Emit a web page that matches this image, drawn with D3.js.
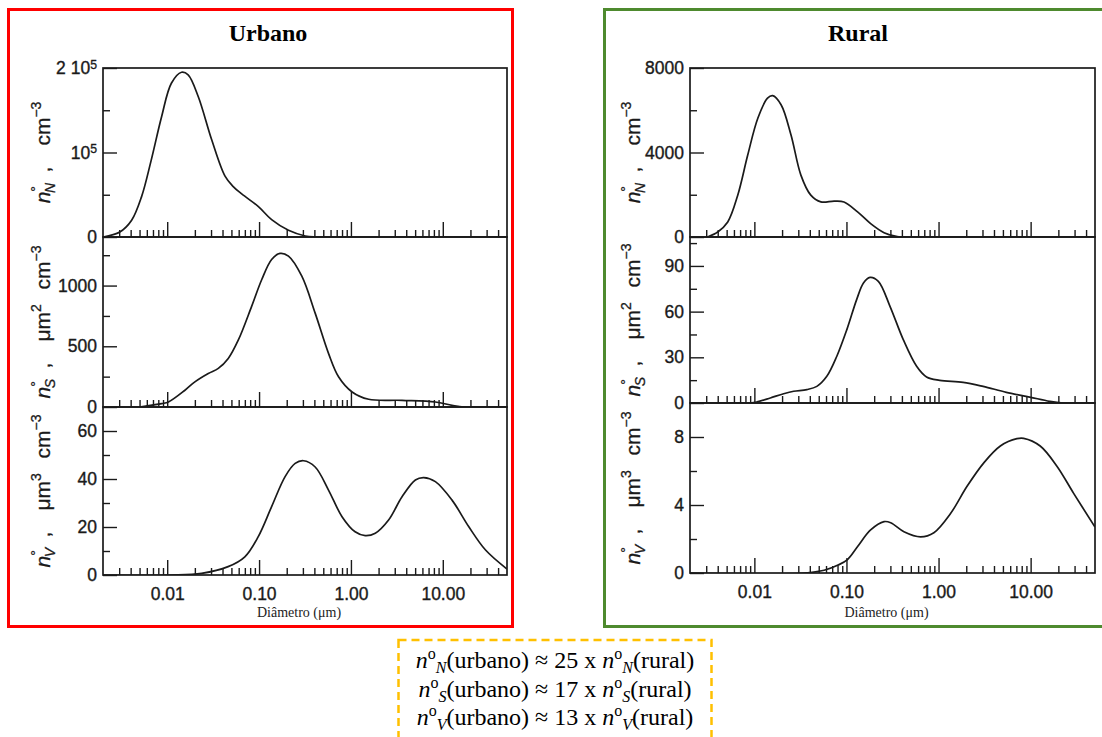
<!DOCTYPE html>
<html>
<head>
<meta charset="utf-8">
<script src="https://cdn.jsdelivr.net/npm/d3@7"></script>
<style>
  body { margin: 0; background: #fff; }
  svg { display: block; }
</style>
</head>
<body>
<script>
// size distributions, diameter in um
var urbanNumber = [[0.002,0],[0.00305,5900],[0.0041,19800],[0.00525,47500],[0.0067,91000],[0.0087,142600],
    [0.0111,182000],[0.0143,195000],[0.0169,192000],[0.0218,166000],[0.0305,115000],[0.0426,72000],
    [0.052,60000],[0.0647,51000],[0.0984,36000],[0.137,20500],[0.209,7900],[0.318,1200],[0.42,0],[50,0]];
var urbanSurface = [[0.005,0],[0.0087,28],[0.0103,41],[0.0156,138],[0.02,207],[0.028,276],[0.036,318],
    [0.0462,400],[0.0595,552],[0.083,829],[0.107,1050],[0.137,1215],[0.169,1265],[0.209,1243],[0.292,1077],
    [0.408,773],[0.57,442],[0.733,249],[1.03,124],[1.56,64],[3.6,55],[8.3,41],[12.6,14],[17,0],[50,0]];
var urbanVolume = [[0.002,0],[0.011,0],[0.0237,0.7],[0.046,3.5],[0.07,7.6],[0.098,16],[0.137,28.5],
    [0.192,41],[0.247,46.5],[0.305,47.6],[0.408,45],[0.57,35.4],[0.8,24.3],[1.11,18],[1.43,16.4],
    [1.84,17.4],[2.57,22.9],[3.6,32.6],[5.03,39.6],[6.2,40.6],[8.3,38.9],[12.6,31.2],[19.2,20.1],
    [29.2,10.4],[50,2.5]];

var ruralNumber = [[0.0031,0],[0.004,238],[0.00514,713],[0.0066,1980],[0.00847,3880],[0.0109,5620],
    [0.0139,6570],[0.0158,6690],[0.0195,6260],[0.025,4830],[0.032,2930],[0.041,1980],[0.0527,1660],
    [0.0735,1700],[0.094,1660],[0.132,1190],[0.183,634],[0.256,206],[0.356,20],[0.4,0],[50,0]];
var ruralSurface = [[0.002,0],[0.009,0],[0.0107,0.7],[0.0149,3.3],[0.0208,6.1],[0.0267,7.7],[0.0372,8.8],
    [0.0477,10.9],[0.0612,17.5],[0.0786,30.7],[0.101,48.2],[0.129,67.9],[0.153,78.8],[0.18,82.5],
    [0.222,79.9],[0.297,63.5],[0.414,41.6],[0.578,24.1],[0.741,17.1],[1.03,14.9],[1.85,13.6],[3.05,10.9],
    [5.45,7],[9.75,3.9],[16.1,1.1],[22.4,0],[50,0]];
var ruralVolume = [[0.002,0],[0.0348,0],[0.0573,0.16],[0.08,0.45],[0.1026,0.79],[0.1316,1.54],[0.183,2.53],
    [0.256,3.02],[0.302,2.96],[0.421,2.43],[0.638,2.13],[0.89,2.37],[1.35,3.5],[2.04,5.1],[3.1,6.48],
    [4.69,7.47],[7.1,7.9],[8.4,7.92],[12.7,7.47],[19.3,6.28],[29.2,4.7],[50,2.7]];

var xTicks = [0.01, 0.1, 1, 10];
var xTickLabels = ["0.01", "0.10", "1.00", "10.00"];

var urbanNumTicks = [0, 50000, 100000, 150000, 200000], urbanNumLabels = {0: "0", 100000: "10^5", 200000: "2 10^5"};
var urbanSurfTicks = [0, 250, 500, 750, 1000, 1250], urbanSurfLabels = {0: "0", 500: "500", 1000: "1000"};
var urbanVolTicks = [0, 10, 20, 30, 40, 50, 60], urbanVolLabels = {0: "0", 20: "20", 40: "40", 60: "60"};
var ruralNumTicks = [0, 2000, 4000, 6000, 8000], ruralNumLabels = {0: "0", 4000: "4000", 8000: "8000"};
var ruralSurfTicks = [0, 15, 30, 45, 60, 75, 90, 105], ruralSurfLabels = {0: "0", 30: "30", 60: "60", 90: "90"};
var ruralVolTicks = [0, 2, 4, 6, 8], ruralVolLabels = {0: "0", 4: "4", 8: "8"};

var ratios = [["N", "25"], ["S", "17"], ["V", "13"]];

var width = 1102, height = 737;
var svg = d3.select("body").append("svg").attr("width", width).attr("height", height);

var sans = "'Liberation Sans', Arial, sans-serif";
var serif = "'Liberation Serif', 'Times New Roman', serif";
var ink = "#1a1a1a";

// frames
svg.append("rect").attr("x", 8.5).attr("y", 9.5).attr("width", 504).attr("height", 617)
    .attr("fill", "none").attr("stroke", "#ff0000").attr("stroke-width", 3);
svg.append("rect").attr("x", 604.5).attr("y", 9.5).attr("width", 520).attr("height", 617)
    .attr("fill", "none").attr("stroke", "#4e8a2e").attr("stroke-width", 3);

var panels = [
    {title: "Urbano", left: 103, right: 507, cx: 268, labelX: 50,
        rows: [
            {top: 68, bottom: 237, max: 200000, data: urbanNumber, ticks: urbanNumTicks, labels: urbanNumLabels, sub: "N", unit: "cm", pow: null},
            {top: 237, bottom: 407, max: 1400, data: urbanSurface, ticks: urbanSurfTicks, labels: urbanSurfLabels, sub: "S", unit: "\u03bcm", pow: "2"},
            {top: 407, bottom: 575, max: 70, data: urbanVolume, ticks: urbanVolTicks, labels: urbanVolLabels, sub: "V", unit: "\u03bcm", pow: "3"}
        ]},
    {title: "Rural", left: 690, right: 1095, cx: 858, labelX: 640,
        rows: [
            {top: 68, bottom: 237, max: 8000, data: ruralNumber, ticks: ruralNumTicks, labels: ruralNumLabels, sub: "N", unit: "cm", pow: null},
            {top: 237, bottom: 403, max: 109, data: ruralSurface, ticks: ruralSurfTicks, labels: ruralSurfLabels, sub: "S", unit: "\u03bcm", pow: "2"},
            {top: 403, bottom: 573, max: 10, data: ruralVolume, ticks: ruralVolTicks, labels: ruralVolLabels, sub: "V", unit: "\u03bcm", pow: "3"}
        ]}
];

function minorTicks(domain) {
    var out = [];
    for (var e = -3; e <= 2; e++) {
        for (var m = 2; m <= 9; m++) {
            var v = m * Math.pow(10, e);
            if (v > domain[0] * 1.01 && v < domain[1] * 0.99) out.push(v);
        }
    }
    return out;
}

function writeLabel(sel, s) {
    var parts = s.split("^");
    sel.text(parts[0]);
    if (parts.length > 1)
        sel.append("tspan").attr("dy", "-0.45em").attr("font-size", "0.7em").text(parts[1]);
}

panels.forEach(function (p, pi) {
    var x = d3.scaleLog().domain([0.002, 50]).range([p.left, p.right]);

    svg.append("text")
            .attr("x", p.cx).attr("y", 41)
            .attr("text-anchor", "middle")
            .attr("font-family", serif).attr("font-weight", "bold").attr("font-size", 24)
            .attr("fill", "#000")
            .text(p.title);

    p.rows.forEach(function (r, ri) {
        var y = d3.scaleLinear().domain([0, r.max]).range([r.bottom, r.top]);
        var g = svg.append("g");
        var clipId = "clip" + pi + ri;

        svg.append("clipPath").attr("id", clipId).append("rect")
                .attr("x", p.left).attr("y", r.top).attr("width", p.right - p.left).attr("height", r.bottom - r.top);

        // x ticks, pointing inwards from the bottom edge
        var major = d3.axisBottom(x).tickValues(xTicks).tickSizeInner(-15).tickSizeOuter(0).tickPadding(13)
                .tickFormat(function (d, i) { return ri === 2 ? xTickLabels[i] : ""; });
        var minor = d3.axisBottom(x).tickValues(minorTicks(x.domain())).tickSizeInner(-7).tickSizeOuter(0).tickFormat("");
        g.append("g").attr("transform", "translate(0," + r.bottom + ")").call(major);
        g.append("g").attr("transform", "translate(0," + r.bottom + ")").call(minor);

        // y ticks
        var labelled = r.ticks.filter(function (t) { return r.labels[t] !== undefined; });
        var unlabelled = r.ticks.filter(function (t) { return r.labels[t] === undefined; });
        var yMajor = d3.axisLeft(y).tickValues(labelled).tickSizeInner(-14).tickSizeOuter(0).tickPadding(6)
                .tickFormat(function () { return ""; });
        var yMinor = d3.axisLeft(y).tickValues(unlabelled).tickSizeInner(-7).tickSizeOuter(0).tickFormat("");
        var ya = g.append("g").attr("transform", "translate(" + p.left + ",0)").call(yMajor);
        g.append("g").attr("transform", "translate(" + p.left + ",0)").call(yMinor);
        ya.selectAll(".tick text").each(function (d) { writeLabel(d3.select(this), r.labels[d]); });

        g.selectAll(".domain").remove();
        g.selectAll(".tick line").attr("stroke", ink).attr("stroke-width", 1.4);
        g.selectAll(".tick text").attr("font-family", sans).attr("font-size", 17.5).attr("fill", ink)
                .attr("stroke", ink).attr("stroke-width", 0.35);

        // frame
        g.append("rect").attr("x", p.left).attr("y", r.top)
                .attr("width", p.right - p.left).attr("height", r.bottom - r.top)
                .attr("fill", "none").attr("stroke", ink).attr("stroke-width", 1.7);

        var line = d3.line()
                .x(function (d) { return x(d[0]); })
                .y(function (d) { return y(d[1]); })
                .curve(d3.curveCatmullRom.alpha(0.5));
        g.append("path").datum(r.data)
                .attr("clip-path", "url(#" + clipId + ")")
                .attr("d", line)
                .attr("fill", "none").attr("stroke", ink).attr("stroke-width", 1.7);

        // y title, rotated
        var t = svg.append("text")
                .attr("transform", "translate(" + p.labelX + "," + ((r.top + r.bottom) / 2) + ") rotate(-90)")
                .attr("text-anchor", "middle")
                .attr("font-family", sans).attr("font-size", 21).attr("fill", ink)
                .attr("stroke", ink).attr("stroke-width", 0.3);
        t.append("tspan").attr("font-style", "italic").text("n");
        t.append("tspan").attr("font-size", 14).attr("dy", -9).text("\u00b0");
        t.append("tspan").attr("font-size", 14).attr("font-style", "italic").attr("dx", -7).attr("dy", 14).text(r.sub);
        t.append("tspan").attr("dy", -5).text("\u2002,\u2002\u2002" + r.unit);
        if (r.pow) {
            t.append("tspan").attr("font-size", 14).attr("dy", -9).text(r.pow);
            t.append("tspan").attr("dy", 9).text("\u2002\u2009cm");
        }
        t.append("tspan").attr("font-size", 14).attr("dy", -9).text("\u22123");
    });

    svg.append("text")
            .attr("x", (p.left + p.right) / 2 - 6).attr("y", 617)
            .attr("text-anchor", "middle")
            .attr("font-family", serif).attr("font-size", 14).attr("fill", "#222")
            .text("Di\u00e2metro (\u03bcm)");
});

// ratio box
svg.append("rect").attr("x", 398.5).attr("y", 640).attr("width", 313).attr("height", 120)
        .attr("fill", "none").attr("stroke", "#ffc000").attr("stroke-width", 2.5)
        .attr("stroke-dasharray", "8,5");

ratios.forEach(function (d, i) {
    var t = svg.append("text")
            .attr("x", 555).attr("y", 668 + i * 28.5)
            .attr("text-anchor", "middle")
            .attr("font-family", serif).attr("font-size", 24).attr("fill", "#000");
    function nsub() {
        t.append("tspan").attr("font-style", "italic").text("n");
        t.append("tspan").attr("font-size", 16).attr("dy", -9).text("o");
        t.append("tspan").attr("font-size", 16).attr("font-style", "italic").attr("dy", 14).text(d[0]);
    }
    nsub();
    t.append("tspan").attr("dy", -5).text("(urbano) \u2248 " + d[1] + " x ");
    nsub();
    t.append("tspan").attr("dy", -5).text("(rural)");
});
</script>
</body>
</html>
